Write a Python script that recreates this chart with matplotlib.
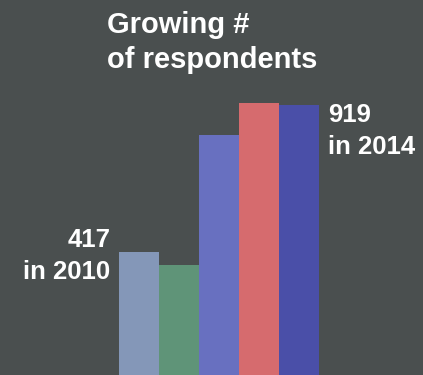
import matplotlib.pyplot as plt

plt.rcParams['font.family'] = ['Liberation Sans', 'DejaVu Sans']

# Data
years = [2010, 2011, 2012, 2013, 2014]
respondents = [417, 374, 816, 925, 919]
colors = ['#8497b8', '#5f9478', '#6870c0', '#d66b6e', '#4a4fa8']
bg = '#4a4f4f'

fig = plt.figure(figsize=(4.23, 3.75), dpi=100, facecolor=bg)
ax = fig.add_axes([0, 0, 1, 1])
ax.set_facecolor(bg)

x = list(range(len(years)))
ax.bar(x, respondents, width=1.0, color=colors, linewidth=0)

ax.set_xlim(-3.4625, 7.1125)
ax.set_ylim(0, 1275)
ax.axis('off')

# Annotations for first and last year
ax.text(x[0] - 0.7, respondents[0] + 83, f"{respondents[0]}\nin {years[0]}",
        ha='right', va='top', color='white', fontsize=18.5, fontweight='bold',
        linespacing=1.4)
ax.text(x[-1] + 0.74, respondents[-1] + 5, f"{respondents[-1]}\nin {years[-1]}",
        ha='left', va='top', color='white', fontsize=18.5, fontweight='bold',
        linespacing=1.4)

fig.text(107 / 423, 1 - 11 / 375, "Growing #\nof respondents", ha='left', va='top',
         color='white', fontsize=21, fontweight='bold', linespacing=1.3)

fig.savefig('out.png', dpi=100, facecolor=bg)
